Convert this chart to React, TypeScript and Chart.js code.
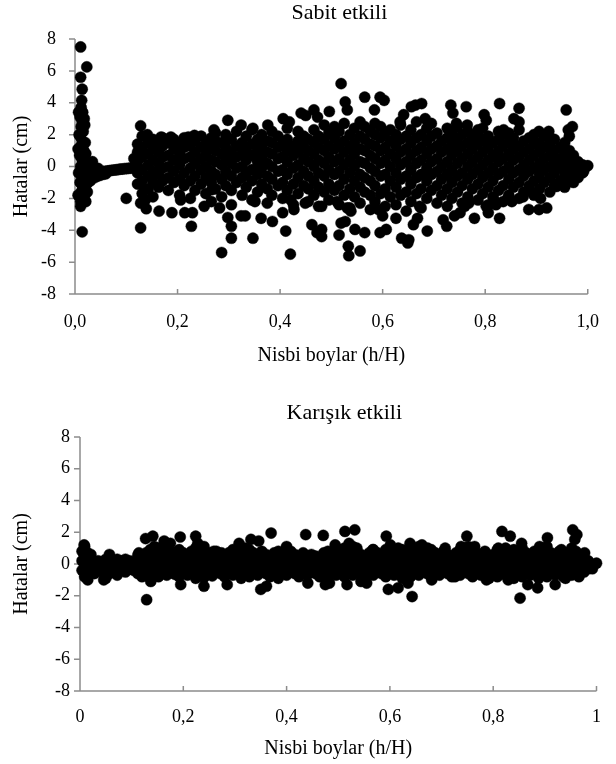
import React, { useEffect, useRef } from "react";
import { Chart, registerables } from "chart.js";
Chart.register(...registerables);

type P = [number, number];
type Col = [number, number[]];

// ---------- "Sabit etkili" (fixed effects) ----------
const fixedStart: P[] = [
  [0.011, 7.5], [0.023, 6.25], [0.011, 5.6], [0.014, 4.85], [0.013, 4.15],
  [0.012, 3.7], [0.015, 3.4], [0.010, 3.1], [0.014, 2.8], [0.012, 2.5], [0.016, 2.2],
  [0.008, 2.0], [0.018, 3.0], [0.020, 1.5], [0.010, 1.9], [0.014, 1.6], [0.012, 1.3],
  [0.017, 1.0], [0.009, 0.7], [0.014, 0.4], [0.019, 0.2], [0.011, 0.0], [0.016, -0.3],
  [0.022, -0.1], [0.026, 0.2], [0.030, 0.1], [0.013, -0.6], [0.019, -0.8], [0.024, -0.5],
  [0.028, -0.7], [0.033, -0.4], [0.010, -1.0], [0.015, -1.3], [0.021, -1.2], [0.012, -1.6],
  [0.018, -1.9], [0.024, -1.6], [0.030, -0.9], [0.011, -2.2], [0.021, -2.2], [0.011, -2.5],
  [0.014, -4.1], [0.007, 3.4], [0.019, 2.6], [0.006, 1.1], [0.021, 0.8], [0.007, -0.4],
  [0.025, -1.0], [0.006, -1.8], [0.034, 0.3],
];
const fixedTail: P[] = [
  [0.036, -0.45], [0.040, -0.40], [0.044, -0.38], [0.048, -0.36], [0.052, -0.33],
  [0.056, -0.31], [0.060, -0.30], [0.064, -0.28], [0.068, -0.26], [0.072, -0.24],
  [0.076, -0.22], [0.080, -0.21], [0.084, -0.19], [0.088, -0.17], [0.092, -0.16],
  [0.096, -0.14], [0.100, -0.13], [0.104, -0.12], [0.108, -0.10], [0.112, -0.09],
  [0.038, -0.70], [0.043, -0.62], [0.048, -0.56], [0.054, -0.50], [0.060, -0.46],
  [0.038, -0.15], [0.045, -0.12],
];
const fixedBand: Col[] = [
  [0.122, [-1.1, -0.4, 0.3, 0.9, 1.4]],
  [0.131, [-1.7, -0.9, -0.2, 0.6, 1.2, 1.9]],
  [0.143, [-1.4, -0.6, 0.1, 0.8, 1.5]],
  [0.152, [-1.9, -1.0, -0.3, 0.4, 1.1, 1.7]],
  [0.163, [-1.3, -0.5, 0.2, 0.9, 1.4]],
  [0.171, [-0.9, -0.1, 0.6, 1.3, 1.8]],
  [0.182, [-1.5, -0.7, 0.0, 0.7, 1.5]],
  [0.193, [-1.0, -0.3, 0.4, 1.1, 1.7]],
  [0.204, [-1.8, -0.8, 0.1, 0.8, 1.4]],
  [0.213, [-1.2, -0.4, 0.5, 1.2, 1.8]],
  [0.225, [-2.0, -0.9, -0.1, 0.6, 1.3]],
  [0.234, [-1.5, -0.6, 0.2, 0.9, 1.6]],
  [0.246, [-1.1, -0.2, 0.5, 1.2, 1.9]],
  [0.255, [-1.7, -0.7, 0.0, 0.7, 1.4]],
  [0.266, [-2.2, -1.0, -0.3, 0.4, 1.1, 1.8]],
  [0.274, [-1.4, -0.5, 0.3, 1.0, 1.6, 2.1]],
  [0.286, [-1.9, -0.8, 0.1, 0.8, 1.5]],
  [0.294, [-1.2, -0.3, 0.5, 1.2, 2.0]],
  [0.305, [-2.4, -1.5, -0.6, 0.2, 0.9, 1.7]],
  [0.315, [-1.0, -0.1, 0.6, 1.3, 2.2]],
  [0.326, [-1.8, -0.7, 0.0, 0.8, 1.5]],
  [0.334, [-1.3, -0.4, 0.4, 1.1, 1.9]],
  [0.345, [-2.1, -0.9, -0.2, 0.7, 1.4, 2.3]],
  [0.356, [-1.6, -0.5, 0.3, 1.0, 1.7]],
  [0.364, [-1.1, -0.1, 0.6, 1.3, 2.0]],
  [0.375, [-2.3, -1.4, -0.6, 0.2, 0.9, 1.6]],
  [0.384, [-1.8, -0.8, 0.0, 0.8, 1.5, 2.2]],
  [0.396, [-1.2, -0.3, 0.5, 1.2, 1.9]],
  [0.405, [-2.0, -1.0, -0.2, 0.6, 1.4]],
  [0.414, [-1.5, -0.5, 0.3, 1.0, 1.7, 2.4]],
  [0.426, [-2.4, -1.1, -0.1, 0.7, 1.3]],
  [0.435, [-1.7, -0.7, 0.1, 0.9, 1.6, 2.2]],
  [0.446, [-1.2, -0.3, 0.5, 1.2, 1.9]],
  [0.455, [-2.2, -1.4, -0.6, 0.3, 1.0, 1.7]],
  [0.466, [-1.8, -0.9, 0.0, 0.8, 1.5, 2.3]],
  [0.475, [-2.5, -1.3, -0.4, 0.4, 1.2, 1.9]],
  [0.486, [-1.6, -0.6, 0.2, 1.0, 1.7, 2.6]],
  [0.495, [-2.1, -1.1, -0.2, 0.6, 1.3, 2.1]],
  [0.506, [-1.5, -0.5, 0.3, 1.1, 1.8, 2.5]],
  [0.515, [-2.4, -1.2, -0.3, 0.5, 1.3, 2.2]],
  [0.525, [-1.8, -0.8, 0.1, 0.9, 1.6, 2.7]],
  [0.536, [-2.6, -1.4, -0.4, 0.4, 1.2, 2.0]],
  [0.545, [-1.9, -0.9, 0.0, 0.8, 1.5, 2.4]],
  [0.556, [-2.3, -1.3, -0.5, 0.3, 1.1, 1.9, 2.8]],
  [0.565, [-1.6, -0.7, 0.2, 1.0, 1.7, 2.5]],
  [0.576, [-2.7, -1.8, -0.9, -0.1, 0.7, 1.4, 2.2]],
  [0.585, [-2.2, -1.2, -0.3, 0.5, 1.3, 2.0, 2.7]],
  [0.596, [-1.7, -0.6, 0.2, 1.0, 1.8, 2.5]],
  [0.605, [-2.5, -1.4, -0.5, 0.4, 1.2, 2.1]],
  [0.615, [-1.9, -0.9, 0.0, 0.8, 1.6, 2.3]],
  [0.626, [-2.4, -1.3, -0.4, 0.5, 1.3, 2.0]],
  [0.635, [-1.8, -0.8, 0.1, 0.9, 1.7, 2.6]],
  [0.646, [-2.8, -1.6, -0.6, 0.3, 1.1, 1.9]],
  [0.655, [-2.2, -1.1, -0.2, 0.7, 1.5, 2.3]],
  [0.666, [-1.7, -0.7, 0.2, 1.0, 1.8, 2.8]],
  [0.675, [-2.6, -1.4, -0.5, 0.4, 1.2, 2.0]],
  [0.686, [-2.0, -0.9, -0.1, 0.8, 1.6, 2.4]],
  [0.695, [-1.5, -0.5, 0.3, 1.1, 1.9]],
  [0.706, [-2.3, -1.2, -0.3, 0.5, 1.3, 2.1]],
  [0.715, [-1.8, -0.8, 0.0, 0.9, 1.6]],
  [0.726, [-2.5, -1.4, -0.5, 0.3, 1.1, 1.8, 2.4]],
  [0.735, [-2.0, -1.0, -0.2, 0.7, 1.4, 2.1]],
  [0.746, [-1.6, -0.6, 0.2, 1.0, 1.7, 2.5]],
  [0.755, [-2.3, -1.2, -0.4, 0.5, 1.3, 2.0]],
  [0.766, [-1.9, -0.8, 0.0, 0.8, 1.5, 2.2]],
  [0.775, [-1.4, -0.5, 0.3, 1.1, 1.8]],
  [0.786, [-2.1, -1.1, -0.2, 0.6, 1.4, 2.0]],
  [0.795, [-1.7, -0.7, 0.1, 0.9, 1.6, 2.4]],
  [0.806, [-2.4, -1.3, -0.4, 0.4, 1.2, 1.9]],
  [0.815, [-1.9, -0.9, -0.1, 0.7, 1.5]],
  [0.826, [-1.5, -0.5, 0.3, 1.0, 1.7, 2.2]],
  [0.835, [-2.2, -1.2, -0.3, 0.5, 1.3, 2.0]],
  [0.846, [-1.8, -0.8, 0.0, 0.8, 1.5, 2.1]],
  [0.855, [-1.3, -0.4, 0.4, 1.1, 1.8]],
  [0.866, [-2.0, -1.0, -0.2, 0.6, 1.3, 2.3]],
  [0.875, [-1.6, -0.6, 0.1, 0.9, 1.6]],
  [0.886, [-1.2, -0.3, 0.4, 1.1, 1.8]],
  [0.895, [-1.8, -0.9, -0.1, 0.7, 1.4, 2.0]],
  [0.906, [-1.4, -0.5, 0.2, 0.9, 1.5]],
  [0.915, [-1.0, -0.2, 0.5, 1.2, 1.9]],
  [0.926, [-1.6, -0.7, 0.0, 0.7, 1.3]],
  [0.935, [-1.2, -0.4, 0.3, 1.0, 1.7]],
  [0.946, [-0.9, -0.1, 0.5, 1.2]],
  [0.955, [-1.3, -0.6, 0.1, 0.8, 1.5]],
  [0.964, [-0.8, -0.2, 0.4, 1.0, 1.9]],
  [0.972, [-1.0, -0.4, 0.2, 0.7]],
  [0.981, [-0.7, -0.2, 0.3]],
  [0.990, [-0.4, 0.1]],
];
const fixedOutliers: P[] = [
  [0.100, -2.0], [0.115, 0.5], [0.128, 2.55], [0.128, -3.85], [0.128, -2.3], [0.137, -1.45],
  [0.137, -2.1], [0.139, -2.65], [0.141, 2.0], [0.164, -2.8], [0.189, -2.9], [0.168, 1.85],
  [0.187, 1.85], [0.206, -2.1], [0.214, -2.9], [0.227, -3.75], [0.229, -2.9], [0.221, 1.85],
  [0.233, 1.95], [0.252, -2.5], [0.267, -1.45], [0.271, 2.3], [0.282, -2.6], [0.286, -5.4],
  [0.298, 2.9], [0.298, -3.2], [0.305, -3.75], [0.305, -4.5], [0.324, 2.6], [0.324, -3.1],
  [0.332, -3.1], [0.347, 2.4], [0.347, -4.5], [0.351, -2.2], [0.363, -3.25], [0.376, 2.6],
  [0.385, -3.45], [0.405, -2.9], [0.406, 3.0], [0.411, -4.05], [0.418, 2.8], [0.420, -5.5],
  [0.421, -2.1], [0.427, -2.7], [0.441, 3.35], [0.450, 3.2], [0.449, -2.3], [0.462, -3.65],
  [0.466, 3.55], [0.473, 3.1], [0.472, -4.15], [0.481, -4.4], [0.481, -3.95], [0.481, -2.5],
  [0.496, 3.45], [0.511, -2.2], [0.519, 5.2], [0.515, -4.3], [0.519, -3.55], [0.527, -3.45],
  [0.527, 4.05], [0.531, 3.55], [0.531, -2.6], [0.538, -2.8], [0.533, -5.0], [0.534, -5.6],
  [0.546, -3.95], [0.556, -5.3], [0.565, 4.35], [0.565, -4.15], [0.584, 3.55], [0.592, -2.7],
  [0.595, 4.35], [0.603, 4.15], [0.595, -4.15], [0.607, -3.95], [0.600, -3.1], [0.626, -3.25],
  [0.637, -4.5], [0.649, -4.8], [0.651, -4.6], [0.641, 3.25], [0.634, 2.8], [0.656, 3.75],
  [0.664, 3.85], [0.676, 3.95], [0.660, -3.65], [0.668, -3.25], [0.672, -2.5], [0.687, -4.05],
  [0.683, 3.0], [0.695, 2.7], [0.718, -3.35], [0.725, -3.75], [0.733, 3.85], [0.737, 3.35],
  [0.744, 2.7], [0.740, -3.1], [0.751, -2.9], [0.760, -2.5], [0.768, -2.3], [0.763, 3.75],
  [0.765, 2.6], [0.779, -3.25], [0.786, 2.3], [0.798, 3.25], [0.802, 2.9], [0.802, -2.5],
  [0.806, -2.9], [0.828, 3.95], [0.828, -3.25], [0.817, -2.1], [0.821, -2.4], [0.836, 2.3],
  [0.844, -2.0], [0.852, -2.2], [0.856, 3.0], [0.866, 3.65], [0.866, 2.8], [0.874, -1.9],
  [0.885, -2.7], [0.893, -1.65], [0.905, 2.2], [0.905, -2.7], [0.908, -2.0], [0.920, -2.6],
  [0.924, 2.2], [0.927, 1.65], [0.939, -1.25], [0.958, 3.55], [0.962, 2.3], [0.970, 2.5],
  [0.954, -0.95], [0.973, -0.75], [0.996, 0.0], [0.992, -0.3], [1.0, 0.05],
];

// ---------- "Karışık etkili" (mixed effects) ----------
const mixedBand: Col[] = [
  [0.004, [-0.4, 0.2, 0.8]], [0.009, [-0.8, -0.1, 0.5, 1.1]], [0.015, [-0.5, 0.1, 0.7]],
  [0.021, [-0.3, 0.3, 0.6]], [0.028, [-0.6, 0.0]], [0.035, [-0.2, 0.2]],
  [0.043, [-0.5, 0.1]], [0.050, [-0.9, -0.3, 0.3]], [0.057, [-0.6, 0.0, 0.45]],
  [0.064, [-0.4, 0.2]], [0.072, [-0.7, -0.1, 0.3]], [0.080, [-0.3, 0.2]],
  [0.088, [-0.5, 0.0, 0.3]], [0.096, [-0.2, 0.2]], [0.104, [-0.4, 0.1]],
  [0.112, [-0.6, 0.0, 0.55]], [0.120, [-0.8, -0.2, 0.4]], [0.128, [-0.5, 0.1, 0.7]],
  [0.136, [-0.9, -0.3, 0.3, 0.9]], [0.144, [-0.6, 0.0, 0.6, 1.1]], [0.152, [-0.8, -0.2, 0.4, 1.0]],
  [0.160, [-0.5, 0.1, 0.7]], [0.168, [-0.7, -0.1, 0.5, 1.2]], [0.176, [-0.4, 0.2, 0.8]],
  [0.184, [-0.65, 0.0, 0.6]], [0.192, [-0.8, -0.2, 0.4, 0.9]], [0.200, [-0.5, 0.1, 0.7]],
  [0.208, [-0.7, -0.1, 0.5]], [0.216, [-0.45, 0.2, 0.8]], [0.224, [-0.9, -0.3, 0.3, 1.0]],
  [0.232, [-0.6, 0.0, 0.6]], [0.240, [-0.85, -0.2, 0.4, 0.9]], [0.248, [-0.5, 0.1, 0.7]],
  [0.256, [-0.75, -0.1, 0.5]], [0.264, [-0.4, 0.2, 0.8]], [0.272, [-0.6, 0.0, 0.6]],
  [0.280, [-0.8, -0.2, 0.4]], [0.288, [-0.5, 0.1, 0.7]], [0.296, [-0.7, -0.1, 0.5, 0.9]],
  [0.304, [-0.4, 0.2, 0.8]], [0.312, [-0.9, -0.3, 0.3, 1.0]], [0.320, [-0.6, 0.0, 0.6]],
  [0.328, [-0.8, -0.2, 0.4, 0.9]], [0.336, [-0.5, 0.1, 0.7]], [0.344, [-0.7, -0.1, 0.5]],
  [0.352, [-0.4, 0.2, 0.8]], [0.360, [-0.6, 0.0, 0.6]], [0.368, [-0.8, -0.2, 0.4]],
  [0.376, [-0.5, 0.1, 0.7]], [0.384, [-0.9, -0.3, 0.3, 0.8]], [0.392, [-0.6, 0.0, 0.6]],
  [0.400, [-0.7, -0.1, 0.5, 1.0]], [0.408, [-0.4, 0.2, 0.8]], [0.416, [-0.6, 0.0, 0.6]],
  [0.424, [-0.8, -0.2, 0.4]], [0.432, [-0.5, 0.1, 0.7]], [0.440, [-0.7, -0.1, 0.5]],
  [0.448, [-0.4, 0.2, 0.6]], [0.456, [-0.6, 0.0, 0.5]], [0.464, [-0.8, -0.2, 0.4]],
  [0.472, [-0.5, 0.1, 0.7]], [0.480, [-0.9, -0.3, 0.3, 0.8]], [0.488, [-0.6, 0.0, 0.6]],
  [0.496, [-0.7, -0.1, 0.5, 1.0]], [0.504, [-0.4, 0.2, 0.8]], [0.512, [-0.8, -0.2, 0.4, 1.0]],
  [0.520, [-0.5, 0.1, 0.7]], [0.528, [-0.7, -0.1, 0.5, 1.1]], [0.536, [-0.4, 0.2, 0.8]],
  [0.544, [-0.6, 0.0, 0.6]], [0.552, [-0.9, -0.3, 0.3]], [0.560, [-0.5, 0.1, 0.7]],
  [0.568, [-0.7, -0.1, 0.5, 0.9]], [0.576, [-0.4, 0.2, 0.7]], [0.584, [-0.6, 0.0, 0.6]],
  [0.592, [-0.8, -0.2, 0.4, 0.9]], [0.600, [-0.5, 0.1, 0.7]], [0.608, [-0.7, -0.1, 0.5]],
  [0.616, [-0.4, 0.2, 0.8]], [0.624, [-0.9, -0.3, 0.3, 0.9]], [0.632, [-0.6, 0.0, 0.6]],
  [0.640, [-0.8, -0.2, 0.4, 1.0]], [0.648, [-0.5, 0.1, 0.7]], [0.656, [-0.7, -0.1, 0.5, 1.1]],
  [0.664, [-0.4, 0.2, 0.8]], [0.672, [-0.6, 0.0, 0.6]], [0.680, [-0.8, -0.2, 0.4, 0.9]],
  [0.688, [-0.5, 0.1, 0.7]], [0.696, [-0.7, -0.1, 0.5]], [0.704, [-0.4, 0.2, 0.8]],
  [0.712, [-0.6, 0.0, 0.6]], [0.720, [-0.8, -0.2, 0.4]], [0.728, [-0.5, 0.1, 0.7]],
  [0.736, [-0.7, -0.1, 0.5, 0.9]], [0.744, [-0.4, 0.2, 0.8]], [0.752, [-0.6, 0.0, 0.6, 1.1]],
  [0.760, [-0.8, -0.2, 0.4]], [0.768, [-0.5, 0.1, 0.7]], [0.776, [-0.7, -0.1, 0.5]],
  [0.784, [-0.4, 0.2, 0.8]], [0.792, [-0.9, -0.3, 0.3]], [0.800, [-0.6, 0.0, 0.6]],
  [0.808, [-0.8, -0.2, 0.4, 0.9]], [0.816, [-0.5, 0.1, 0.7]], [0.824, [-0.7, -0.1, 0.5, 1.0]],
  [0.832, [-0.4, 0.2, 0.8]], [0.840, [-0.9, -0.3, 0.3, 0.9]], [0.848, [-0.6, 0.0, 0.6]],
  [0.856, [-0.8, -0.2, 0.4, 1.0]], [0.864, [-0.5, 0.1, 0.7]], [0.872, [-0.7, -0.1, 0.5]],
  [0.880, [-0.4, 0.2, 0.8]], [0.888, [-0.9, -0.3, 0.3, 0.9]], [0.896, [-0.6, 0.0, 0.6]],
  [0.904, [-0.8, -0.2, 0.4, 1.1]], [0.912, [-0.5, 0.1, 0.7]], [0.920, [-0.7, -0.1, 0.5]],
  [0.928, [-0.4, 0.2, 0.8]], [0.936, [-0.8, -0.2, 0.4]], [0.944, [-0.5, 0.1, 0.7]],
  [0.952, [-0.7, -0.1, 0.5, 1.0]], [0.960, [-0.4, 0.2, 0.8]], [0.968, [-0.6, 0.0, 0.6]],
  [0.976, [-0.5, 0.1, 0.4]], [0.984, [-0.3, 0.2]], [0.992, [-0.2]],
];
const mixedOutliers: P[] = [
  [0.008, 1.2], [0.012, 0.7], [0.015, -1.0], [0.046, -1.0], [0.057, 0.6], [0.114, 0.7],
  [0.127, 1.6], [0.129, -2.25], [0.141, 1.75], [0.137, -1.1], [0.163, 1.45], [0.175, 1.3],
  [0.194, 1.7], [0.195, -1.3], [0.224, 1.75], [0.228, 1.3], [0.240, 1.1], [0.240, -1.4],
  [0.259, 0.8], [0.274, 0.7], [0.285, -1.3], [0.308, 1.3], [0.320, 1.0], [0.331, 1.55],
  [0.346, 1.45], [0.350, -1.6], [0.361, -1.4], [0.370, 1.95], [0.400, 1.1], [0.437, 1.85],
  [0.441, -1.2], [0.471, 1.8], [0.475, -1.3], [0.483, -1.2], [0.494, 1.2], [0.506, 0.9],
  [0.513, 2.05], [0.532, 2.15], [0.521, 1.3], [0.536, 1.0], [0.517, -1.3], [0.544, -1.1],
  [0.555, -1.2], [0.567, 0.9], [0.593, 1.75], [0.597, -1.6], [0.601, 1.2], [0.616, -1.5],
  [0.616, 1.0], [0.639, 1.3], [0.643, -2.05], [0.635, -1.2], [0.662, 1.2], [0.673, 1.0],
  [0.681, -1.0], [0.707, 1.0], [0.726, -0.8], [0.738, 1.1], [0.749, 1.75], [0.764, 1.1],
  [0.787, -1.0], [0.810, 1.0], [0.817, 2.05], [0.833, 1.75], [0.829, -1.0], [0.852, -2.15],
  [0.855, 1.3], [0.867, -1.3], [0.886, -1.5], [0.890, 1.1], [0.905, 1.65], [0.920, -1.3],
  [0.932, 0.9], [0.940, -0.9], [0.954, 2.15], [0.962, 1.85], [0.958, 1.55], [0.977, 0.7],
  [0.966, -0.8], [0.992, -0.3], [1.0, 0.05],
];

const yTickValues = [-8, -6, -4, -2, 0, 2, 4, 6, 8];
const xTickValues = [0, 0.2, 0.4, 0.6, 0.8, 1];

const FONT = "'Liberation Serif', 'Times New Roman', serif";

function flatten(cols: Col[]): P[] {
  const out: P[] = [];
  cols.forEach(([x, ys]) => ys.forEach((y) => out.push([x, y])));
  return out;
}

const axesPlugin = {
  id: "excelAxes",
  beforeDatasetsDraw(chart: any) {
    const { ctx, chartArea: a, scales } = chart;
    const x = scales.x;
    const y = scales.y;
    ctx.save();
    ctx.strokeStyle = "#8c8c8c";
    ctx.lineWidth = 1.5;
    ctx.beginPath();
    ctx.moveTo(a.left, a.top);
    ctx.lineTo(a.left, a.bottom);
    ctx.moveTo(a.left, a.bottom);
    ctx.lineTo(a.right, a.bottom);
    y.ticks.forEach((t: any) => {
      const py = y.getPixelForValue(t.value);
      ctx.moveTo(a.left - 6, py);
      ctx.lineTo(a.left, py);
    });
    x.ticks.forEach((t: any) => {
      const px = x.getPixelForValue(t.value);
      ctx.moveTo(px, a.bottom);
      ctx.lineTo(px, a.bottom - 5);
    });
    ctx.stroke();
    const o = chart.options.plugins.chartTitle;
    ctx.fillStyle = "#000";
    ctx.font = `22px ${FONT}`;
    ctx.textAlign = "center";
    ctx.textBaseline = "middle";
    ctx.fillText(o.text, (a.left + a.right) / 2 + o.dx, o.y);
    ctx.restore();
  },
};

interface Cfg {
  title: string;
  titleY: number;
  titleDx: number;
  points: P[];
  xFmt: (v: number) => string;
  yAxisWidth: number;
  rightPad: number;
  topPad: number;
  xAxisHeight: number;
  yTickPad: number;
  xTickPad: number;
  xTitlePadBottom: number;
}

function makeChart(canvas: HTMLCanvasElement, c: Cfg) {
  return new Chart(canvas, {
    type: "scatter",
    data: {
      datasets: [
        {
          data: c.points.map(([x, y]) => ({ x, y })),
          backgroundColor: "#000",
          borderColor: "#000",
          pointRadius: 5.6,
          pointBorderWidth: 0.4,
          clip: false as any,
        },
      ],
    },
    options: {
      animation: false,
      responsive: false,
      events: [],
      layout: { padding: { left: 0, right: c.rightPad, top: c.topPad, bottom: 0 } },
      plugins: {
        legend: { display: false },
        tooltip: { enabled: false },
        title: { display: false },
        chartTitle: { text: c.title, y: c.titleY, dx: c.titleDx },
      },
      scales: {
        x: {
          type: "linear",
          min: 0,
          max: 1,
          afterBuildTicks: (s: any) => {
            s.ticks = xTickValues.map((v) => ({ value: v }));
          },
          afterFit: (s: any) => {
            s.height = c.xAxisHeight;
          },
          grid: { display: false, drawTicks: false },
          border: { display: false },
          ticks: {
            color: "#000",
            padding: c.xTickPad,
            maxRotation: 0,
            font: { family: FONT, size: 18, lineHeight: 1.2 },
            callback: (v: any) => c.xFmt(Number(v)),
          },
          title: {
            display: true,
            text: "Nisbi boylar (h/H)",
            color: "#000",
            font: { family: FONT, size: 20, lineHeight: 1.2 },
            padding: { top: 0, bottom: c.xTitlePadBottom },
          },
        },
        y: {
          type: "linear",
          min: -8,
          max: 8,
          afterBuildTicks: (s: any) => {
            s.ticks = yTickValues.map((v) => ({ value: v }));
          },
          afterFit: (s: any) => {
            s.width = c.yAxisWidth;
          },
          grid: { display: false, drawTicks: false },
          border: { display: false },
          ticks: {
            color: "#000",
            padding: c.yTickPad,
            font: { family: FONT, size: 18, lineHeight: 1.2 },
            callback: (v: any) => String(v),
          },
          title: {
            display: true,
            text: "Hatalar (cm)",
            color: "#000",
            font: { family: FONT, size: 20, lineHeight: 1.2 },
            padding: { top: 10, bottom: 0 },
          },
        },
      },
    } as any,
    plugins: [axesPlugin],
  });
}

export default function App() {
  const topRef = useRef<HTMLCanvasElement>(null);
  const botRef = useRef<HTMLCanvasElement>(null);

  useEffect(() => {
    const fixedPoints = [...fixedStart, ...fixedTail, ...flatten(fixedBand), ...fixedOutliers];
    const mixedPoints = [...flatten(mixedBand), ...mixedOutliers];
    const top = makeChart(topRef.current!, {
      title: "Sabit etkili",
      titleY: 13,
      titleDx: 8,
      points: fixedPoints,
      xFmt: (v) => v.toFixed(1).replace(".", ","),
      yAxisWidth: 75,
      rightPad: 27,
      topPad: 39,
      xAxisHeight: 86,
      yTickPad: 19,
      xTickPad: 17,
      xTitlePadBottom: 12,
    });
    const bot = makeChart(botRef.current!, {
      title: "Karışık etkili",
      titleY: 33,
      titleDx: 6,
      points: mixedPoints,
      xFmt: (v) => (v === 0 ? "0" : v === 1 ? "1" : String(Number(v.toFixed(1))).replace(".", ",")),
      yAxisWidth: 80,
      rightPad: 19,
      topPad: 57,
      xAxisHeight: 73,
      yTickPad: 10,
      xTickPad: 15,
      xTitlePadBottom: 3,
    });
    return () => {
      top.destroy();
      bot.destroy();
    };
  }, []);

  return (
    <div style={{ position: "absolute", left: 0, top: 0, width: 616, height: 764, background: "#fff" }}>
      <canvas ref={topRef} width={616} height={380} style={{ position: "absolute", left: 0, top: 0, width: 616, height: 380 }} />
      <canvas ref={botRef} width={616} height={384} style={{ position: "absolute", left: 0, top: 380, width: 616, height: 384 }} />
    </div>
  );
}
